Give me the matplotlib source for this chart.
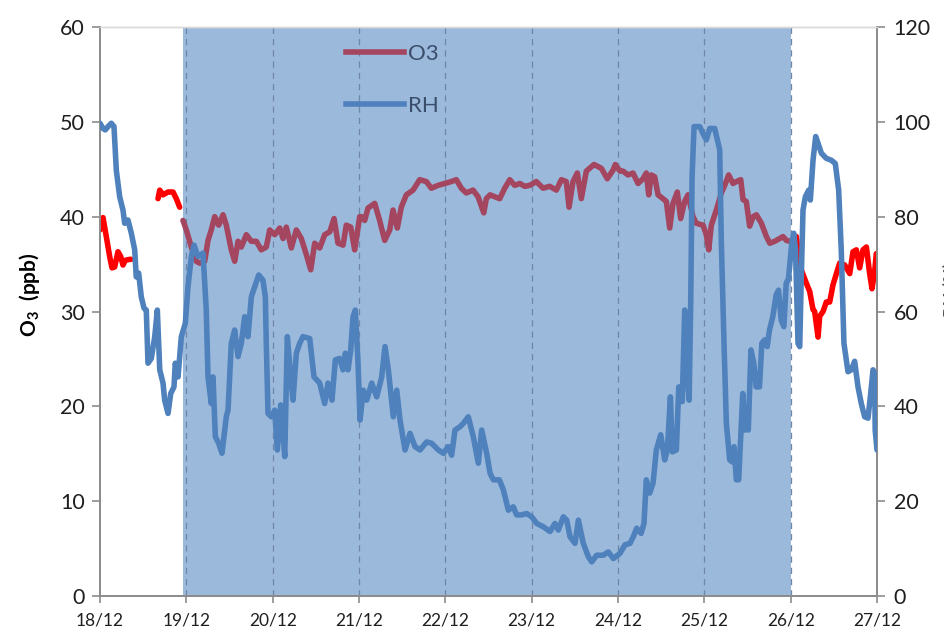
import numpy as np
import matplotlib
matplotlib.use("Agg")
import matplotlib.pyplot as plt
from matplotlib.lines import Line2D

plt.rcParams['font.family'] = ['Lato', 'DejaVu Sans']
plt.rcParams['mathtext.fontset'] = 'custom'
plt.rcParams['mathtext.rm'] = 'Lato'
plt.rcParams['mathtext.bf'] = 'Lato:bold'

# ---------------- data ----------------
day_labels = ['18/12', '19/12', '20/12', '21/12', '22/12', '23/12', '24/12', '25/12', '26/12', '27/12']
shade_start, shade_end = 0.96, 8.0

# O3 (ppb), time in days since 18/12 00:00
o3_t = [0.000, 0.035, 0.073, 0.112, 0.139, 0.170, 0.208, 0.240, 0.266, 0.293, 0.344, 0.359,
        0.50,
        0.672, 0.692, 0.730, 0.788, 0.846, 0.884, 0.923, 0.961, 1.000, 1.058, 1.115, 1.155,
        1.213, 1.251, 1.289, 1.329, 1.375, 1.425, 1.463, 1.521, 1.560, 1.599, 1.637, 1.695,
        1.753, 1.811, 1.868, 1.926, 1.966, 2.024, 2.082, 2.120, 2.158, 2.216, 2.274, 2.332,
        2.390, 2.441, 2.487, 2.545, 2.603, 2.661, 2.711, 2.757, 2.815, 2.853, 2.904, 2.950,
        3.008, 3.027, 3.066, 3.104, 3.182, 3.239, 3.298, 3.356, 3.394, 3.444, 3.490, 3.548,
        3.626, 3.703, 3.780, 3.838, 3.915, 3.993, 4.069, 4.127, 4.185, 4.243, 4.321, 4.379,
        4.445, 4.475, 4.518, 4.572, 4.630, 4.688, 4.746, 4.804, 4.862, 4.920, 4.977, 5.054,
        5.132, 5.209, 5.286, 5.344, 5.401, 5.433, 5.479, 5.529, 5.575, 5.633, 5.722, 5.807,
        5.876, 5.942, 5.969, 6.023, 6.058, 6.116, 6.174, 6.232, 6.290, 6.328, 6.356, 6.386,
        6.425, 6.464, 6.521, 6.560, 6.599, 6.637, 6.687, 6.726, 6.772, 6.811, 6.869, 6.907,
        6.985, 7.023, 7.051, 7.081, 7.139, 7.197, 7.236, 7.282, 7.332, 7.371, 7.422, 7.448,
        7.486, 7.525, 7.566, 7.603, 7.661, 7.719, 7.758, 7.815, 7.873, 7.912, 7.950, 7.990,
        8.030, 8.066, 8.085, 8.123, 8.181, 8.221, 8.259, 8.278, 8.317, 8.336, 8.375, 8.413,
        8.452, 8.490, 8.530, 8.568, 8.626, 8.684, 8.722, 8.761, 8.799, 8.838, 8.877, 8.915,
        8.942, 8.973, 8.992]
o3_v = [38.6, 39.9, 37.9, 35.8, 34.6, 34.7, 36.3, 35.8, 34.9, 35.4, 35.5, 35.5,
        np.nan,
        41.9, 42.8, 42.3, 42.6, 42.6, 41.9, 41.0, 39.6, 38.6, 36.8, 35.3, 35.1,
        35.3, 37.5, 38.6, 40.0, 39.1, 40.2, 39.1, 36.5, 35.3, 37.4, 36.8, 38.1,
        37.4, 37.4, 36.5, 36.8, 38.6, 38.1, 38.8, 37.7, 38.9, 36.7, 38.6, 37.7,
        36.0, 34.4, 37.2, 36.7, 38.1, 38.4, 39.8, 37.2, 37.0, 39.1, 38.9, 36.5,
        40.0, 40.0, 39.6, 40.9, 41.4, 39.6, 37.5, 38.6, 40.7, 38.8, 41.0, 42.3,
        42.8, 43.9, 43.7, 43.0, 43.3, 43.5, 43.7, 43.9, 43.0, 42.5, 42.8, 42.1,
        40.4, 41.9, 42.3, 42.1, 41.9, 43.0, 43.9, 43.3, 43.5, 43.2, 43.3, 43.7,
        43.0, 43.2, 42.8, 43.9, 43.7, 41.0, 43.7, 44.6, 41.9, 44.8, 45.5, 45.1,
        44.0, 44.9, 45.5, 44.8, 44.8, 44.4, 44.6, 43.5, 44.0, 44.6, 42.3, 44.4,
        44.2, 42.3, 41.9, 41.6, 38.8, 41.4, 42.6, 39.8, 41.6, 42.3, 40.0, 39.3,
        39.1, 38.1, 36.5, 39.1, 40.7, 42.5, 43.3, 44.4, 43.5, 43.7, 43.9, 41.8,
        41.6, 39.0, 40.0, 40.2, 39.3, 37.9, 37.2, 37.4, 37.7, 37.9, 37.5, 37.4,
        37.6, 37.9, 36.5, 34.4, 33.0, 32.1, 30.2, 30.0, 27.3, 29.5, 30.0, 31.0,
        31.0, 32.8, 34.0, 35.1, 34.9, 34.0, 36.3, 36.5, 34.6, 36.5, 36.8, 34.0,
        32.4, 34.2, 36.1]

# RH (%), time in days since 18/12 00:00
rh_t = [0.000, 0.035, 0.061, 0.093, 0.131, 0.162, 0.189, 0.228, 0.266, 0.286, 0.324, 0.363,
        0.402, 0.420, 0.448, 0.478, 0.510, 0.536, 0.556, 0.594, 0.634, 0.664, 0.692, 0.730,
        0.749, 0.788, 0.819, 0.857, 0.872, 0.904, 0.942, 0.988, 1.019, 1.058, 1.089, 1.135,
        1.193, 1.231, 1.251, 1.289, 1.309, 1.336, 1.375, 1.413, 1.463, 1.483, 1.521, 1.560,
        1.599, 1.637, 1.676, 1.714, 1.753, 1.792, 1.838, 1.888, 1.915, 1.926, 1.946, 1.984,
        2.024, 2.054, 2.093, 2.140, 2.170, 2.209, 2.236, 2.274, 2.313, 2.351, 2.429, 2.479,
        2.545, 2.602, 2.641, 2.687, 2.726, 2.776, 2.815, 2.842, 2.873, 2.904, 2.931, 2.957,
        2.989, 3.012, 3.050, 3.089, 3.147, 3.205, 3.263, 3.301, 3.340, 3.397, 3.437, 3.475,
        3.533, 3.591, 3.649, 3.707, 3.784, 3.842, 3.919, 3.977, 4.034, 4.073, 4.112, 4.170,
        4.208, 4.266, 4.324, 4.382, 4.421, 4.479, 4.518, 4.556, 4.625, 4.672, 4.730, 4.787,
        4.826, 4.884, 4.942, 5.001, 5.058, 5.135, 5.213, 5.270, 5.309, 5.367, 5.406, 5.444,
        5.502, 5.541, 5.598, 5.656, 5.696, 5.753, 5.830, 5.888, 5.946, 6.023, 6.081, 6.139,
        6.177, 6.217, 6.268, 6.301, 6.328, 6.367, 6.406, 6.444, 6.495, 6.541, 6.572, 6.607,
        6.630, 6.676, 6.704, 6.744, 6.773, 6.800, 6.824, 6.843, 6.858, 6.881, 6.947, 6.985,
        7.023, 7.063, 7.120, 7.178, 7.197, 7.228, 7.255, 7.294, 7.321, 7.344, 7.371, 7.398,
        7.445, 7.471, 7.494, 7.509, 7.540, 7.573, 7.600, 7.639, 7.666, 7.697, 7.728, 7.755,
        7.793, 7.832, 7.860, 7.890, 7.921, 7.948, 7.975, 8.013, 8.036, 8.056, 8.085, 8.105,
        8.123, 8.143, 8.170, 8.209, 8.228, 8.259, 8.290, 8.317, 8.355, 8.413, 8.471, 8.517,
        8.556, 8.586, 8.617, 8.664, 8.703, 8.741, 8.780, 8.818, 8.857, 8.896, 8.927, 8.954,
        8.973, 8.979, 9.000]
rh_v = [99.7, 98.6, 98.3, 99.0, 99.7, 99.0, 89.8, 84.2, 81.4, 78.6, 79.3, 76.5,
        73.0, 67.3, 68.1, 63.1, 60.7, 60.3, 49.1, 50.1, 54.7, 60.3, 47.7, 44.9,
        41.3, 38.5, 42.7, 44.1, 49.1, 46.2, 54.7, 57.5, 65.2, 71.6, 74.0, 71.6,
        72.3, 60.3, 46.2, 40.6, 46.2, 33.6, 32.2, 30.1, 37.8, 39.2, 53.3, 56.1,
        50.5, 53.3, 58.9, 54.7, 63.1, 65.2, 67.7, 66.6, 63.1, 53.3, 38.5, 37.8,
        39.2, 30.8, 40.3, 29.4, 54.7, 46.2, 41.3, 51.2, 53.3, 54.7, 54.3, 46.2,
        44.9, 40.6, 44.9, 41.3, 49.8, 50.1, 47.7, 51.2, 47.7, 51.9, 58.9, 60.3,
        49.1, 37.1, 43.4, 41.3, 44.9, 42.0, 46.2, 52.6, 47.7, 37.8, 43.4, 37.1,
        30.8, 34.3, 31.5, 30.8, 32.5, 32.2, 30.8, 30.1, 31.5, 29.7, 35.0, 35.7,
        36.4, 37.8, 33.6, 28.0, 35.0, 30.1, 25.9, 24.5, 24.5, 22.4, 18.1, 18.8,
        17.1, 17.1, 17.4, 16.7, 15.3, 14.6, 13.6, 15.3, 13.9, 16.7, 16.0, 12.5,
        11.1, 16.0, 11.1, 8.3, 7.2, 8.6, 8.6, 9.3, 7.9, 9.0, 10.8, 11.1,
        12.5, 14.3, 13.2, 15.3, 24.5, 21.7, 23.8, 30.8, 34.0, 28.7, 30.8, 42.0,
        30.4, 30.8, 44.1, 41.0, 60.3, 47.0, 41.3, 63.1, 88.5, 99.0, 99.0, 97.5,
        96.2, 98.6, 98.6, 94.1, 74.4, 53.3, 36.4, 28.7, 28.3, 31.5, 24.5, 24.5,
        42.7, 35.0, 39.9, 35.0, 51.9, 49.1, 44.1, 44.1, 53.3, 54.0, 52.6, 56.1,
        58.9, 63.5, 64.5, 58.2, 56.8, 65.9, 67.0, 74.4, 76.5, 73.0, 53.3, 52.6,
        67.3, 81.4, 84.2, 85.6, 83.5, 91.9, 96.9, 95.5, 93.4, 92.3, 91.9, 91.2,
        85.6, 73.0, 53.3, 47.3, 47.7, 49.5, 44.1, 40.6, 37.8, 37.5, 42.7, 47.7,
        47.0, 35.0, 30.8]

# ---------------- style ----------------
c_shade = '#9BB9DB'
c_blue = '#4F81BD'
c_maroon = '#A4465F'
c_red = '#FF0000'
c_axis = '#8C8C8C'
c_text = '#1F1F1F'
LW = 4.0

fig = plt.figure(figsize=(9.44, 6.30), dpi=100)
ax = fig.add_axes([100/944, 1-596/630, 777/944, 569/630])
ax2 = ax.twinx()

ax.axvspan(shade_start, shade_end, color=c_shade, lw=0, zorder=0)
for d in range(1, 9):
    ax.axvline(d, color='#6F86A6', lw=0.9, ls=(0, (5, 4)), zorder=0.5)

o3_t_a = np.array(o3_t)
o3_v_a = np.array(o3_v)
mid = (o3_t_a >= shade_start - 1e-9) & (o3_t_a <= shade_end + 0.04)
pre = o3_t_a <= shade_start + 1e-9
post = o3_t_a >= shade_end + 0.03
kw = dict(lw=LW, solid_joinstyle='round', solid_capstyle='round', zorder=2)
ax.plot(o3_t_a[pre], o3_v_a[pre], color=c_red, **kw)
ax.plot(o3_t_a[post], o3_v_a[post], color=c_red, **kw)
ax.plot(o3_t_a[mid], o3_v_a[mid], color=c_maroon, **kw)

ax2.plot(rh_t, rh_v, color=c_blue, lw=LW, solid_joinstyle='round',
         solid_capstyle='round', zorder=3)

ax.set_xlim(0, 9)
ax.set_ylim(0, 60)
ax2.set_ylim(0, 120)
ax.set_xticks(range(10))
ax.set_xticklabels(day_labels, fontsize=12.5, color=c_text)
ax.set_yticks(range(0, 61, 10))
ax.set_yticklabels([str(v) for v in range(0, 61, 10)], fontsize=15.5, color=c_text)
ax2.set_yticks(range(0, 121, 20))
ax2.set_yticklabels([str(v) for v in range(0, 121, 20)], fontsize=15.5, color=c_text)

for a in (ax, ax2):
    for s in a.spines.values():
        s.set_color(c_axis)
        s.set_linewidth(1.3)
    a.spines['top'].set_color('#D9D9D9')
    a.spines['top'].set_linewidth(1.0)
    a.set_facecolor('none')
ax.tick_params(axis='y', length=6, width=1.2, color=c_axis, pad=5)
ax.tick_params(axis='x', length=5, width=1.2, color=c_axis, pad=7)
ax2.tick_params(axis='y', length=6, width=1.2, color=c_axis, pad=6)

ax.set_ylabel(r'O$_\mathbf{3}$  (ppb)', fontsize=15, fontweight='bold', color='black')
ax.yaxis.set_label_coords(-0.075, 0.53)

handles = [Line2D([], [], color=c_maroon, lw=LW), Line2D([], [], color=c_blue, lw=LW)]
leg = fig.legend(handles, ['O3', 'RH'], loc='upper left',
                 bbox_to_anchor=(346/944, 1-44/630), frameon=False, fontsize=16,
                 handlelength=2.6, handletextpad=0.2, labelspacing=1.45,
                 borderpad=0, borderaxespad=0)
for t in leg.get_texts():
    t.set_color('#3A4E6C')

fig.text(943/944, 1-290/630, 'RH (%)', rotation=90, ha='left', va='center',
         fontsize=13, fontweight='bold', color='#555555')

fig.savefig('out.png', dpi=100)
